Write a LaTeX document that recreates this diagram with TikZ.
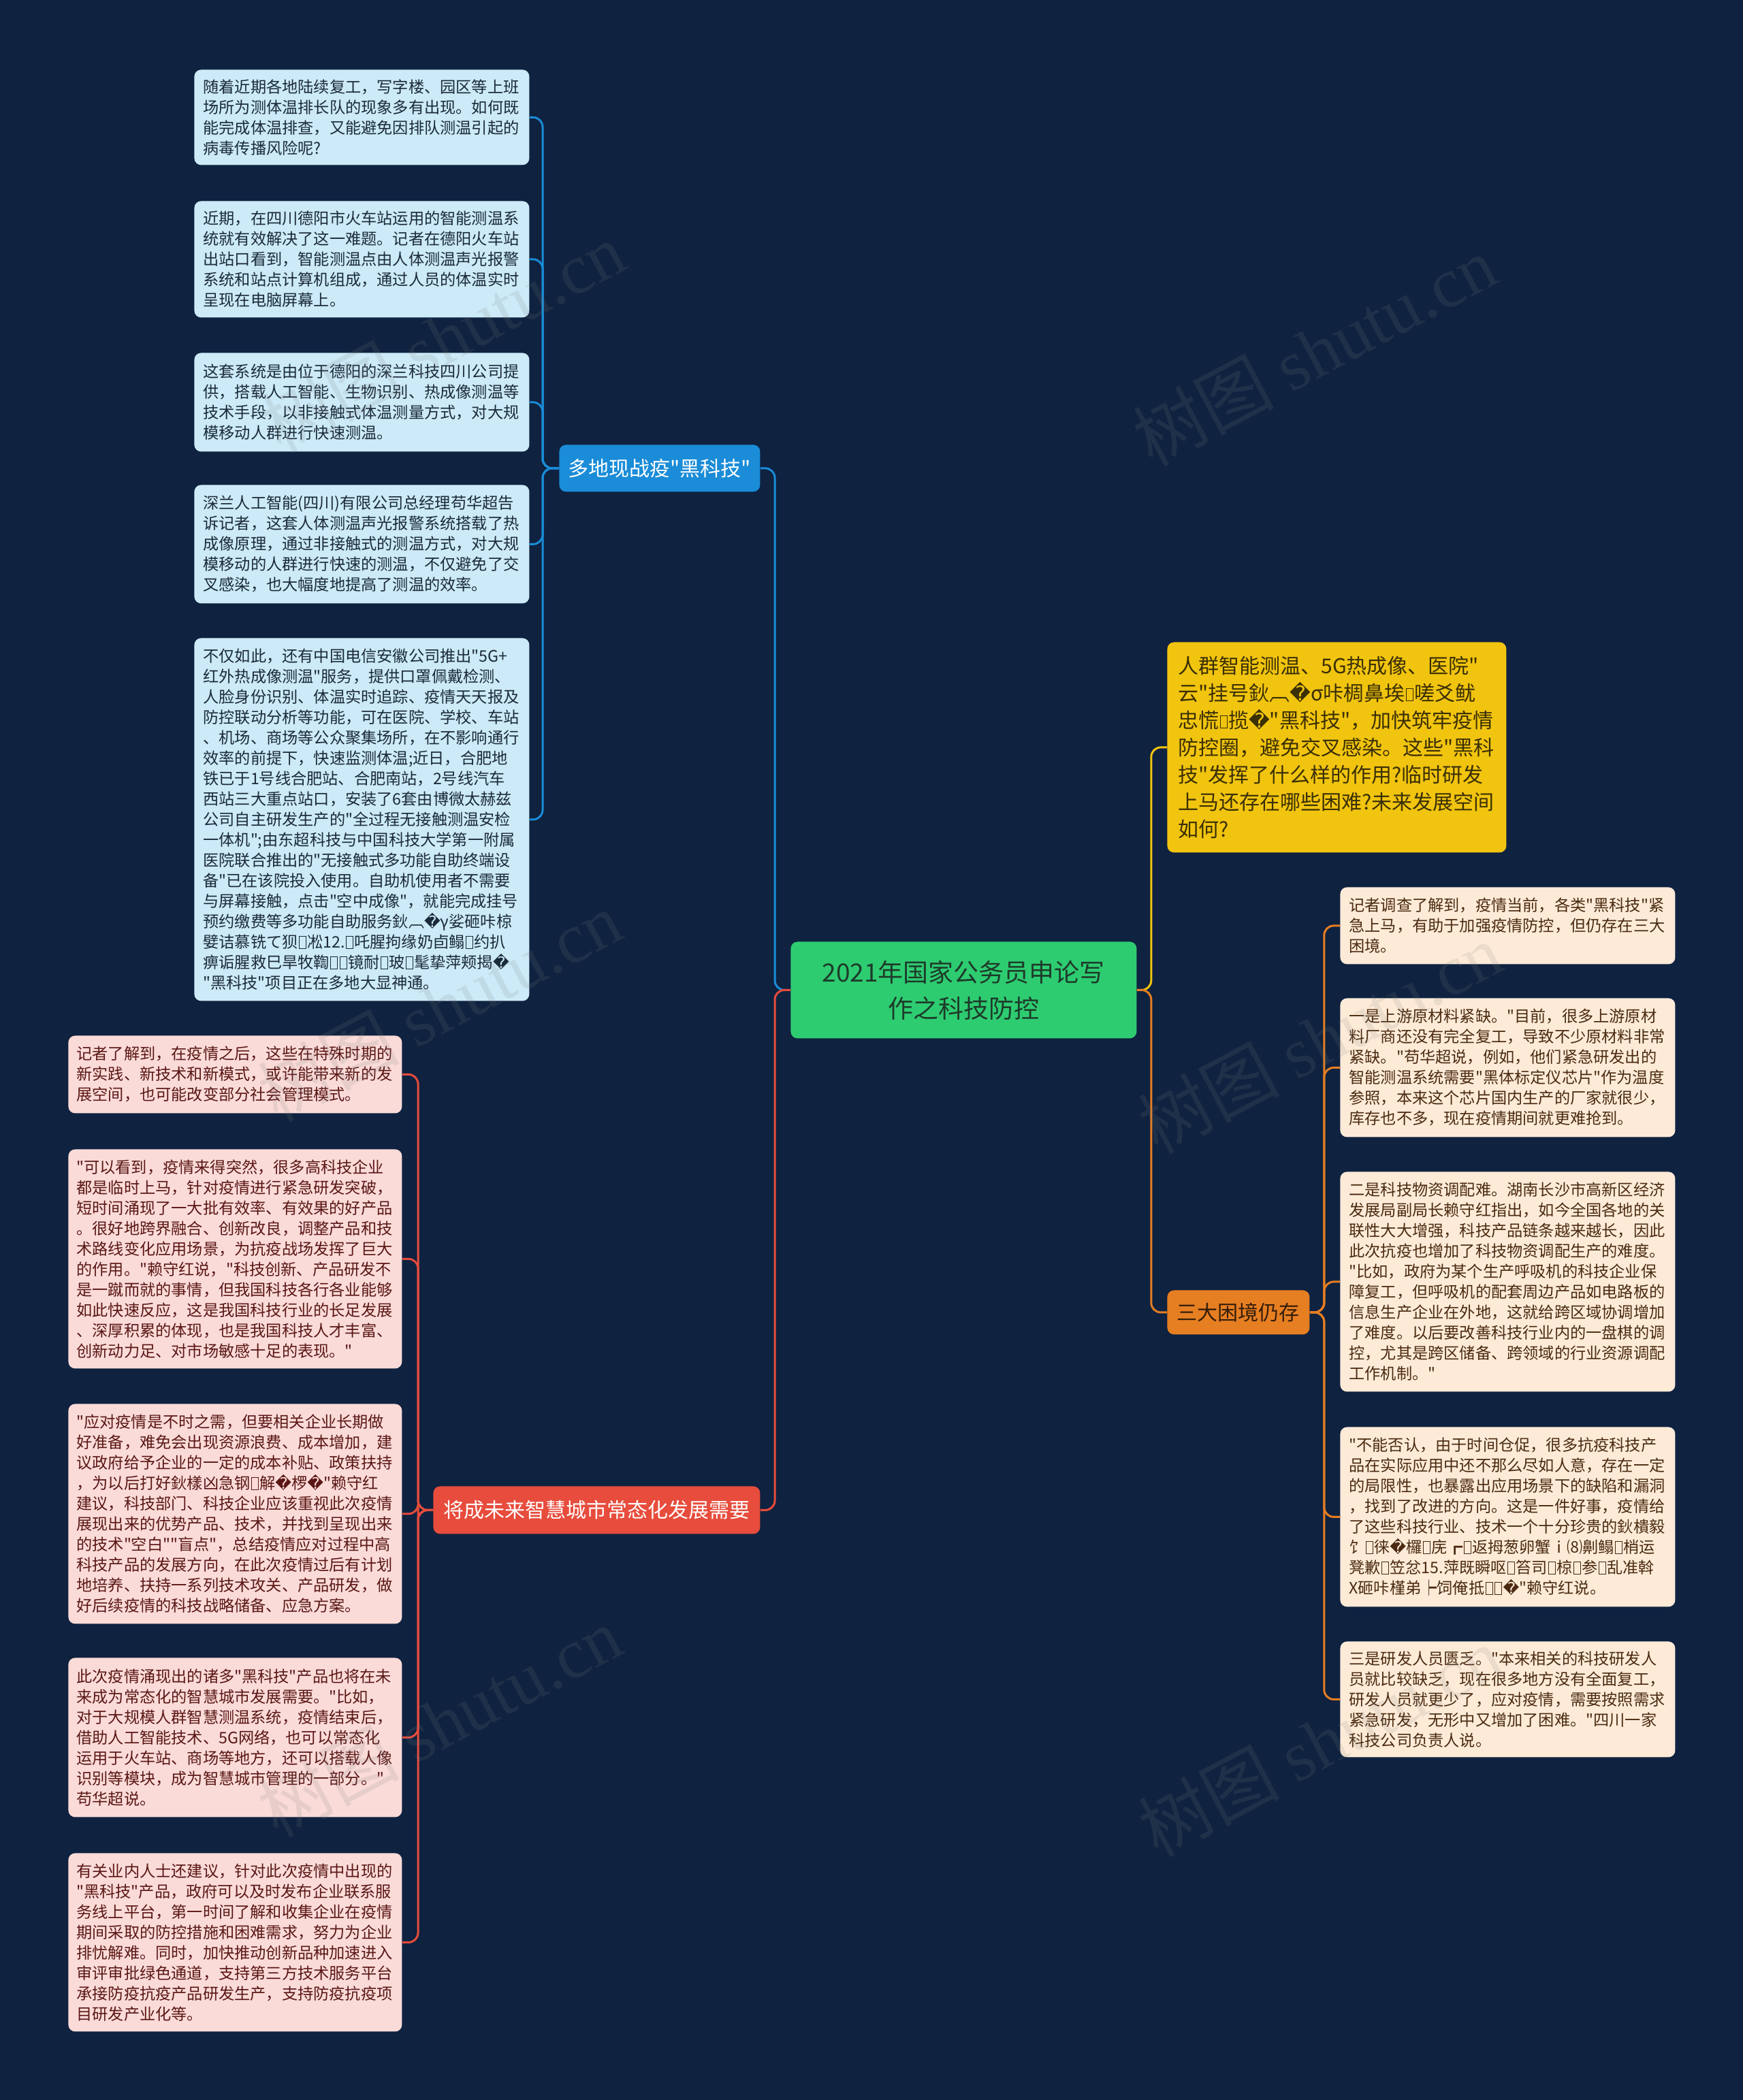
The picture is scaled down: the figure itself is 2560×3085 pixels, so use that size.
\documentclass[tikz,border=0pt]{standalone}
\usepackage{fontspec}
\setmainfont{Noto Sans CJK SC}[Ligatures=TeXOff]
\newfontfamily\djv{DejaVu Sans}
\newfontfamily\wmserif{Liberation Serif}
\newcommand\rep{{\djv\char"FFFD}}
\newcommand\tofu{\kern0.6pt{\fboxsep0pt\fboxrule0.5pt\fbox{\rule{0pt}{8.6pt}\hspace{4.6pt}}}\kern0.6pt}
\definecolor{bg}{HTML}{0F2240}
\definecolor{bluebr}{HTML}{1A8CD8}
\definecolor{bluech}{HTML}{CCEAF7}
\definecolor{bluetx}{HTML}{1B2A3A}
\definecolor{redbr}{HTML}{E74C3C}
\definecolor{redch}{HTML}{FADBD8}
\definecolor{redtx}{HTML}{5A1715}
\definecolor{yelbr}{HTML}{F1C40F}
\definecolor{yeltx}{HTML}{3A2F05}
\definecolor{orgbr}{HTML}{E67E22}
\definecolor{orgch}{HTML}{FDEBD8}
\definecolor{orgtx}{HTML}{4A2A10}
\definecolor{rootc}{HTML}{2ECC71}
\definecolor{roottx}{HTML}{1D3B2A}
\tikzset{
  boxbase/.style={rounded corners=5pt, anchor=north west, inner ysep=0pt},
  childbox/.style={boxbase, align=left, text width=233pt, inner xsep=6.5pt,
    font=\fontsize{11.6pt}{15pt}\selectfont},
  bchild/.style={childbox, fill=bluech, text=bluetx},
  rchild/.style={childbox, fill=redch, text=redtx, inner xsep=6pt},
  ochild/.style={childbox, fill=orgch, text=orgtx},
  branchbox/.style={boxbase, align=center, inner xsep=2pt,
    font=\fontsize{15pt}{20pt}\selectfont},
  bline/.style={draw=bluebr, line width=1.5pt, rounded corners=7pt},
  rline/.style={draw=redbr, line width=1.5pt, rounded corners=7pt},
  yline/.style={draw=yelbr, line width=1.5pt, rounded corners=7pt},
  oline/.style={draw=orgbr, line width=1.5pt, rounded corners=7pt},
  wmark/.style={text=gray, opacity=0.15, rotate=28,
    font=\fontsize{52pt}{52pt}\selectfont}
}
\begin{document}
\begin{tikzpicture}[x=0.5pt, y=-0.5pt]
\useasboundingbox (0,0) rectangle (2560,3085);
\fill[bg] (0,0) rectangle (2560,3085);

% root
\node[boxbase, fill=rootc, text=roottx, align=center, minimum width=254pt, minimum height=71pt,
  font=\fontsize{18.5pt}{26.5pt}\selectfont] (root) at (1161,1383)
  {2021年国家公务员申论写\\作之科技防控};

% branches
\node[branchbox, fill=bluebr, text=white, minimum width=147.5pt, minimum height=34.5pt] (blue) at (821,653) {多地现战疫"黑科技"};
\node[branchbox, fill=redbr, text=white, minimum width=240pt, minimum height=35pt] (red) at (636,2183) {将成未来智慧城市常态化发展需要};
\node[branchbox, fill=orgbr, text=orgtx!70!black, minimum width=104.5pt, minimum height=32.5pt] (orange) at (1714,1895) {三大困境仍存};
\node[boxbase, fill=yelbr, text=yeltx, align=left, text width=233pt, inner xsep=8pt, minimum height=154.5pt,
  font=\fontsize{15pt}{20pt}\selectfont] (yellow) at (1714,943)
  {人群智能测温、5G热成像、医院"\\
   云"挂号鈥︹\rep σ咔椆鼻埃\tofu 嗟爻鱿\\
   忠慌\tofu 揽\rep"黑科技"，加快筑牢疫情\\
   防控圈，避免交叉感染。这些"黑科\\
   技"发挥了什么样的作用?临时研发\\
   上马还存在哪些困难?未来发展空间\\
   如何?};

% blue children
\node[bchild, minimum height=70pt] (c1) at (285,102)
  {随着近期各地陆续复工，写字楼、园区等上班\\
   场所为测体温排长队的现象多有出现。如何既\\
   能完成体温排查，又能避免因排队测温引起的\\
   病毒传播风险呢?};
\node[bchild, minimum height=85.5pt] (c2) at (285,295)
  {近期，在四川德阳市火车站运用的智能测温系\\
   统就有效解决了这一难题。记者在德阳火车站\\
   出站口看到，智能测温点由人体测温声光报警\\
   系统和站点计算机组成，通过人员的体温实时\\
   呈现在电脑屏幕上。};
\node[bchild, minimum height=72.5pt] (c3) at (285,518)
  {这套系统是由位于德阳的深兰科技四川公司提\\
   供，搭载人工智能、生物识别、热成像测温等\\
   技术手段，以非接触式体温测量方式，对大规\\
   模移动人群进行快速测温。};
\node[bchild, minimum height=87pt] (c4) at (285,712)
  {深兰人工智能(四川)有限公司总经理苟华超告\\
   诉记者，这套人体测温声光报警系统搭载了热\\
   成像原理，通过非接触式的测温方式，对大规\\
   模移动的人群进行快速的测温，不仅避免了交\\
   叉感染，也大幅度地提高了测温的效率。};
\node[bchild, minimum height=266.5pt] (c5) at (285,937)
  {不仅如此，还有中国电信安徽公司推出"5G+\\
   红外热成像测温"服务，提供口罩佩戴检测、\\
   人脸身份识别、体温实时追踪、疫情天天报及\\
   防控联动分析等功能，可在医院、学校、车站\\
   、机场、商场等公众聚集场所，在不影响通行\\
   效率的前提下，快速监测体温;近日，合肥地\\
   铁已于1号线合肥站、合肥南站，2号线汽车\\
   西站三大重点站口，安装了6套由博微太赫兹\\
   公司自主研发生产的"全过程无接触测温安检\\
   一体机";由东超科技与中国科技大学第一附属\\
   医院联合推出的"无接触式多功能自助终端设\\
   备"已在该院投入使用。自助机使用者不需要\\
   与屏幕接触，点击"空中成像"，就能完成挂号\\
   预约缴费等多功能自助服务鈥︹\rep γ娑砸咔椋\\
   嬖诘慕铣て狈\tofu 凇12.\tofu 吒腥拘缘奶卣鳎\tofu 约扒\\
   痹诟腥救巳旱牧鞫\tofu\tofu 镜耐\tofu 玻\tofu 髦挚萍颊揭\rep\\
   "黑科技"项目正在多地大显神通。};

% red children
\node[rchild, minimum height=57pt] (r1) at (100,1521)
  {记者了解到，在疫情之后，这些在特殊时期的\\
   新实践、新技术和新模式，或许能带来新的发\\
   展空间，也可能改变部分社会管理模式。};
\node[rchild, minimum height=161pt] (r2) at (100,1688)
  {"可以看到，疫情来得突然，很多高科技企业\\
   都是临时上马，针对疫情进行紧急研发突破，\\
   短时间涌现了一大批有效率、有效果的好产品\\
   。很好地跨界融合、创新改良，调整产品和技\\
   术路线变化应用场景，为抗疫战场发挥了巨大\\
   的作用。"赖守红说，"科技创新、产品研发不\\
   是一蹴而就的事情，但我国科技各行各业能够\\
   如此快速反应，这是我国科技行业的长足发展\\
   、深厚积累的体现，也是我国科技人才丰富、\\
   创新动力足、对市场敏感十足的表现。"};
\node[rchild, minimum height=161.5pt] (r3) at (100,2062)
  {"应对疫情是不时之需，但要相关企业长期做\\
   好准备，难免会出现资源浪费、成本增加，建\\
   议政府给予企业的一定的成本补贴、政策扶持\\
   ，为以后打好鈥樣凶急钢\tofu 解\rep 椤\rep"赖守红\\
   建议，科技部门、科技企业应该重视此次疫情\\
   展现出来的优势产品、技术，并找到呈现出来\\
   的技术"空白""盲点"，总结疫情应对过程中高\\
   科技产品的发展方向，在此次疫情过后有计划\\
   地培养、扶持一系列技术攻关、产品研发，做\\
   好后续疫情的科技战略储备、应急方案。};
\node[rchild, minimum height=117pt] (r4) at (100,2435)
  {此次疫情涌现出的诸多"黑科技"产品也将在未\\
   来成为常态化的智慧城市发展需要。"比如，\\
   对于大规模人群智慧测温系统，疫情结束后，\\
   借助人工智能技术、5G网络，也可以常态化\\
   运用于火车站、商场等地方，还可以搭载人像\\
   识别等模块，成为智慧城市管理的一部分。"\\
   苟华超说。};
\node[rchild, minimum height=131pt] (r5) at (100,2722)
  {有关业内人士还建议，针对此次疫情中出现的\\
   "黑科技"产品，政府可以及时发布企业联系服\\
   务线上平台，第一时间了解和收集企业在疫情\\
   期间采取的防控措施和困难需求，努力为企业\\
   排忧解难。同时，加快推动创新品种加速进入\\
   审评审批绿色通道，支持第三方技术服务平台\\
   承接防疫抗疫产品研发生产，支持防疫抗疫项\\
   目研发产业化等。};

% orange children
\node[ochild, minimum height=56.5pt] (o1) at (1968,1303)
  {记者调查了解到，疫情当前，各类"黑科技"紧\\
   急上马，有助于加强疫情防控，但仍存在三大\\
   困境。};
\node[ochild, minimum height=102pt] (o2) at (1968,1466)
  {一是上游原材料紧缺。"目前，很多上游原材\\
   料厂商还没有完全复工，导致不少原材料非常\\
   紧缺。"苟华超说，例如，他们紧急研发出的\\
   智能测温系统需要"黑体标定仪芯片"作为温度\\
   参照，本来这个芯片国内生产的厂家就很少，\\
   库存也不多，现在疫情期间就更难抢到。};
\node[ochild, minimum height=161.5pt] (o3) at (1968,1721)
  {二是科技物资调配难。湖南长沙市高新区经济\\
   发展局副局长赖守红指出，如今全国各地的关\\
   联性大大增强，科技产品链条越来越长，因此\\
   此次抗疫也增加了科技物资调配生产的难度。\\
   "比如，政府为某个生产呼吸机的科技企业保\\
   障复工，但呼吸机的配套周边产品如电路板的\\
   信息生产企业在外地，这就给跨区域协调增加\\
   了难度。以后要改善科技行业内的一盘棋的调\\
   控，尤其是跨区储备、跨领域的行业资源调配\\
   工作机制。"};
\node[ochild, minimum height=132pt] (o4) at (1968,2096)
  {"不能否认，由于时间仓促，很多抗疫科技产\\
   品在实际应用中还不那么尽如人意，存在一定\\
   的局限性，也暴露出应用场景下的缺陷和漏洞\\
   ，找到了改进的方向。这是一件好事，疫情给\\
   了这些科技行业、技术一个十分珍贵的鈥樻毅\\
   饣\tofu 徕\rep 欏\tofu 庑┏\tofu 返拇葱卵蟹ⅰ⑻劓鳎\tofu 梢运\\
   凳歉\tofu 笠忿15.萍既瞬呕\tofu 笞司\tofu 椋\tofu 参\tofu 乱准斡\\
   X砸咔槿弟┝饲俺抵\tofu\tofu\rep"赖守红说。};
\node[ochild, minimum height=85pt] (o5) at (1968,2411)
  {三是研发人员匮乏。"本来相关的科技研发人\\
   员就比较缺乏，现在很多地方没有全面复工，\\
   研发人员就更少了，应对疫情，需要按照需求\\
   紧急研发，无形中又增加了困难。"四川一家\\
   科技公司负责人说。};

% connectors root -> branches
\draw[bline] (root.west) -- ++(-11.5pt,0) |- (blue.east);
\draw[rline] (root.west) -- ++(-11.5pt,0) |- (red.east);
\draw[yline] (root.east) -- ++(10.5pt,0) |- (yellow.west);
\draw[oline] (root.east) -- ++(10.5pt,0) |- (orange.west);

% blue branch -> children
\foreach \c in {c1,c2,c3,c4,c5}
  \draw[bline] (blue.west) -- ++(-12pt,0) |- (\c.east);
% red branch -> children
\foreach \c in {r1,r2,r3,r4,r5}
  \draw[rline] (red.west) -- ++(-11pt,0) |- (\c.east);
% orange branch -> children
\foreach \c in {o1,o2,o3,o4,o5}
  \draw[oline] (orange.east) -- ++(10.5pt,0) |- (\c.west);

% watermarks
\node[wmark] (w1) at (650,495) {树图 {\wmserif shutu.cn}};
\node[wmark] (w2) at (1930,515) {树图 {\wmserif shutu.cn}};
\node[wmark] (w3) at (645,1478) {树图 {\wmserif shutu.cn}};
\node[wmark] (w4) at (1938,1525) {树图 {\wmserif shutu.cn}};
\node[wmark] (w5) at (645,2529) {树图 {\wmserif shutu.cn}};
\node[wmark] (w6) at (1938,2558) {树图 {\wmserif shutu.cn}};
\end{tikzpicture}
\end{document}
